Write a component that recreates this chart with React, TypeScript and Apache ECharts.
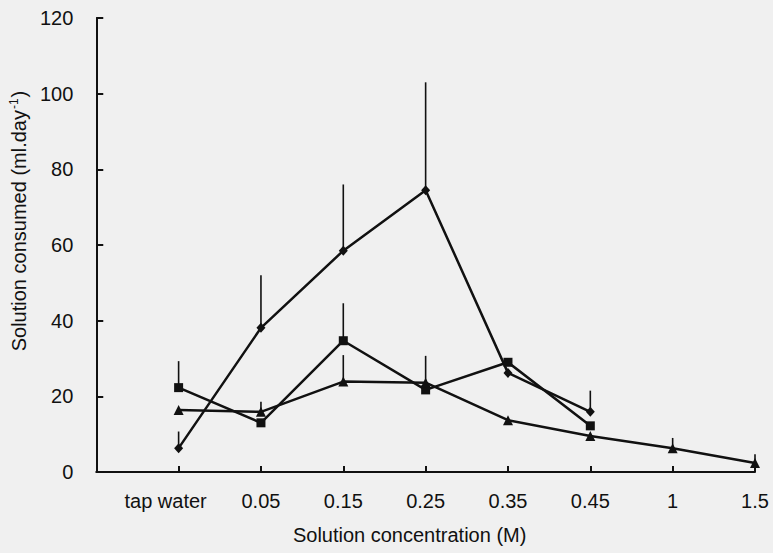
import React, { useEffect, useRef } from "react";
import * as echarts from "echarts";

const categories = ["tap water", "0.05", "0.15", "0.25", "0.35", "0.45", "1", "1.5"];
const diamondValues = [6.3, 38.1, 58.5, 74.5, 26.2, 15.9, null, null];
const diamondUpper = [10.7, 52, 76, 103, null, 21.5, null, null];
const squareValues = [22.3, 13.0, 34.7, 21.7, 29.0, 12.2, null, null];
const squareUpper = [29.3, null, 44.6, 30.7, null, null, null, null];
const triangleValues = [16.4, 15.9, 23.9, 23.6, 13.7, 9.5, 6.3, 2.4];
const triangleUpper = [null, 18.6, 30.9, null, null, null, 9.0, 4.7];
const yTicks = { min: 0, max: 120, interval: 20 };

const FONT = "Liberation Sans, Arial, sans-serif";
const FS = 20;

function pairs(vals: (number | null)[]) {
  return categories
    .map((c, i) => (vals[i] == null ? null : [c, vals[i]]))
    .filter((d) => d != null);
}

function errPairs(vals: (number | null)[], upper: (number | null)[]) {
  return categories
    .map((c, i) => (vals[i] == null || upper[i] == null ? null : [c, vals[i], upper[i]]))
    .filter((d) => d != null);
}

export default function App() {
  const ref = useRef<HTMLDivElement>(null);
  useEffect(() => {
    if (!ref.current) return;
    const chart = echarts.init(ref.current, null, { renderer: "svg" });
    const lineStyle = { color: "#111", width: 2.5 };
    const errSeries = (name: string, vals: (number | null)[], upper: (number | null)[]) => ({
      type: "custom",
      name,
      data: errPairs(vals, upper),
      encode: { x: 0, y: [1, 2] },
      z: 1,
      renderItem: (params: any, api: any) => {
        const x = api.value(0);
        const p1 = api.coord([x, api.value(1)]);
        const p2 = api.coord([x, api.value(2)]);
        return {
          type: "line",
          shape: { x1: p1[0], y1: p1[1], x2: p2[0], y2: p2[1] },
          style: { stroke: "#111", lineWidth: 1.6 },
        };
      },
    });
    chart.setOption({
      animation: false,
      backgroundColor: "#f0f0f0",
      grid: { left: 93, right: 18, top: 18, bottom: 81 },
      xAxis: {
        type: "category",
        data: ["", ...categories],
        boundaryGap: false,
        axisLine: { lineStyle: { color: "#111", width: 2 } },
        axisTick: { inside: true, length: 6, lineStyle: { color: "#111", width: 2 } },
        axisLabel: {
          color: "#111",
          fontFamily: FONT,
          fontSize: FS,
          margin: 19,
          interval: 0,
          formatter: (v: string) => (v === categories[0] ? "{a|" + v + "}" : v),
          rich: { a: { fontFamily: FONT, fontSize: FS, color: "#111", padding: [0, 26, 0, 0] } },
        },
        name: "Solution concentration (M)",
        nameLocation: "middle",
        nameGap: 53,
        nameTextStyle: { color: "#111", fontFamily: FONT, fontSize: FS, padding: [0, 32, 0, 0] },
        splitLine: { show: false },
      },
      yAxis: {
        type: "value",
        min: yTicks.min,
        max: yTicks.max,
        interval: yTicks.interval,
        axisLine: { show: true, lineStyle: { color: "#111", width: 2 } },
        axisTick: { show: true, inside: true, length: 7, lineStyle: { color: "#111", width: 2 } },
        axisLabel: { color: "#111", fontFamily: FONT, fontSize: FS, margin: 23 },
        splitLine: { show: false },
        name: "{m|Solution consumed (ml.day}{s|-1}{m|)}",
        nameLocation: "middle",
        nameGap: 63,
        nameTextStyle: {
          color: "#111",
          fontFamily: FONT,
          fontSize: FS,
          padding: [0, 0, 0, 48],
          rich: {
            m: { fontFamily: FONT, fontSize: FS, color: "#111" },
            s: { fontFamily: FONT, fontSize: 12, color: "#111", verticalAlign: "top", padding: [0, 1, 10, 1] },
          },
        },
      },
      series: [
        errSeries("dErr", diamondValues, diamondUpper),
        errSeries("sErr", squareValues, squareUpper),
        errSeries("tErr", triangleValues, triangleUpper),
        {
          type: "line",
          name: "diamond",
          data: pairs(diamondValues),
          symbol: "diamond",
          symbolSize: [9, 10],
          lineStyle,
          itemStyle: { color: "#111" },
          z: 3,
        },
        {
          type: "line",
          name: "square",
          data: pairs(squareValues),
          symbol: "rect",
          symbolSize: 9,
          lineStyle,
          itemStyle: { color: "#111" },
          z: 3,
        },
        {
          type: "line",
          name: "triangle",
          data: pairs(triangleValues),
          symbol: "triangle",
          symbolSize: 10,
          lineStyle,
          itemStyle: { color: "#111" },
          z: 3,
        },
      ],
    });
    return () => chart.dispose();
  }, []);
  return (
    <div
      ref={ref}
      style={{ position: "fixed", left: 0, top: 0, width: 773, height: 553 }}
    />
  );
}
